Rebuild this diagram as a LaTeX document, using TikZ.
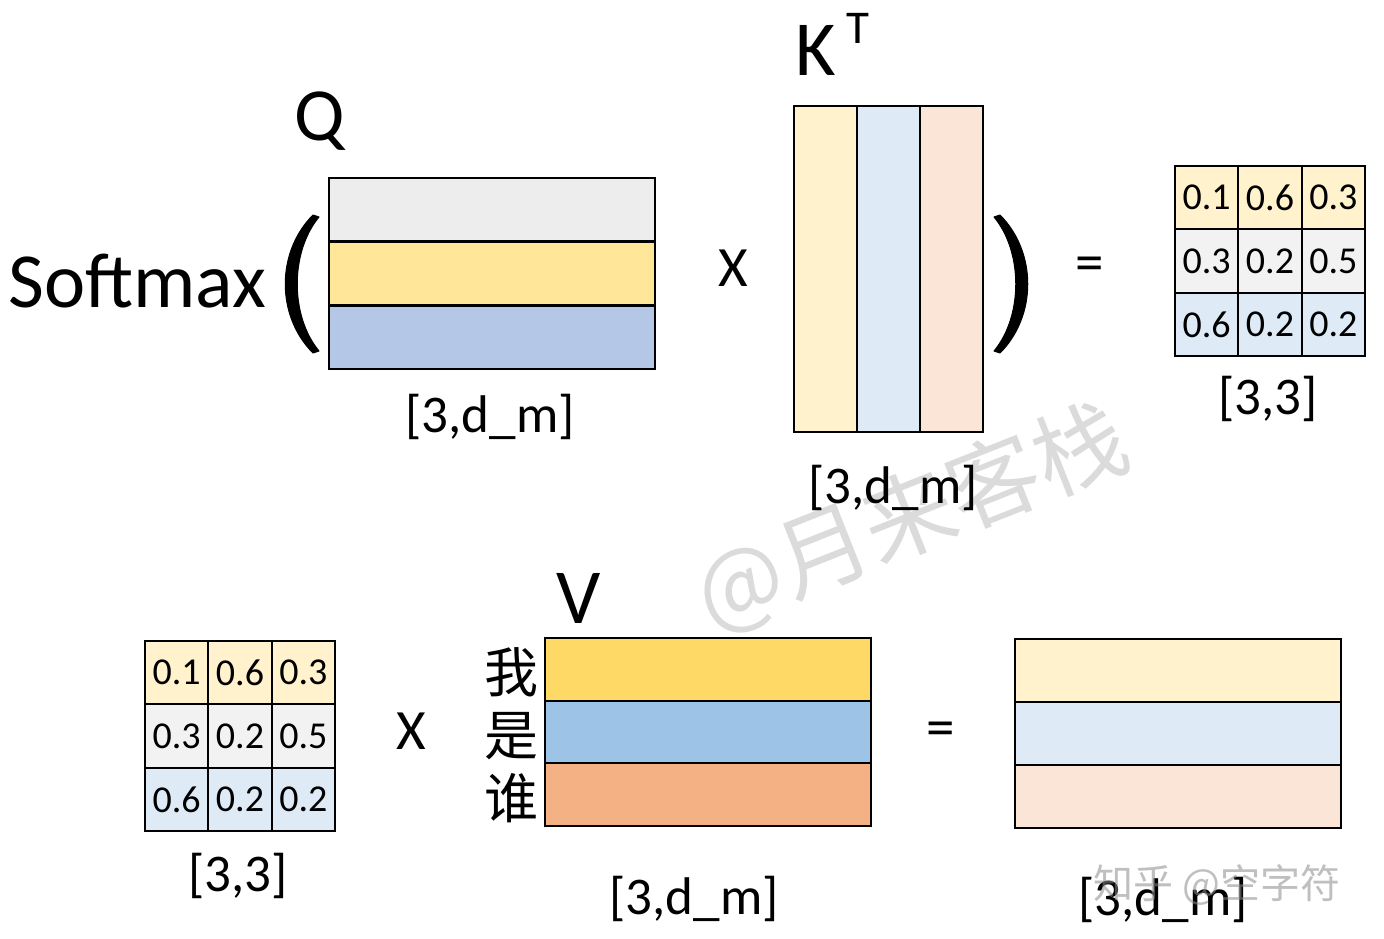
\documentclass[tikz,border=0pt]{standalone}
\usepackage{fontspec}
\setmainfont{Carlito}
\newfontfamily\cjk{Noto Sans CJK SC}
\definecolor{qgrey}{HTML}{EDEDED}
\definecolor{qyel}{HTML}{FFE699}
\definecolor{qblue}{HTML}{B4C7E7}
\definecolor{lyel}{HTML}{FFF2CC}
\definecolor{lblue}{HTML}{DEEBF7}
\definecolor{lpeach}{HTML}{FBE5D6}
\definecolor{lgrey}{HTML}{F2F2F2}
\definecolor{vyel}{HTML}{FFD966}
\definecolor{vblue}{HTML}{9DC3E6}
\definecolor{vorange}{HTML}{F4B183}
\tikzset{
  box/.style={draw=black, line width=1pt, inner sep=0pt, outer sep=0pt, anchor=north west},
  rowbox/.style={box, minimum width=163pt, minimum height=31.5pt},
  colbox/.style={box, minimum width=31.5pt, minimum height=163pt},
  numcell/.style={box, minimum width=31.67pt, minimum height=31.67pt, font=\fontsize{19}{19}\selectfont},
  lbl/.style={inner sep=0pt, font=\fontsize{26.5}{26.5}\selectfont},
  big/.style={inner sep=0pt, font=\fontsize{39}{39}\selectfont},
  op/.style={inner sep=0pt, font=\fontsize{28.5}{28.5}\selectfont},
  paren/.style={fill=black, draw=black, line width=0.5pt, line join=round},
  wm/.style={inner sep=0pt, text=black!45, opacity=0.55}
}
\begin{document}
\begin{tikzpicture}[x=0.5pt, y=-0.5pt]
\useasboundingbox[fill=white] (0,0) rectangle (1384,938);

% diagonal watermark
\node[wm, text=black!14, opacity=1, rotate=21.6, font=\cjk\fontsize{46}{46}\selectfont] (wm1) at (912,518) {@月来客栈};

% ---------- top row ----------
\node[big, anchor=base] (softmax) at (137.5,307) {Softmax};
\fill[paren] (313,215) .. controls (276,252) and (276,316) .. (313,353) -- (319,351) .. controls (290,316) and (290,252) .. (319,217) -- cycle;

% Q
\node[big, font=\fontsize{37.5}{37.5}\selectfont, anchor=base] (qlab) at (320,140) {Q};
\node[rowbox, fill=qgrey] (q1) at (329,178) {};
\node[rowbox, fill=qyel]  (q2) at (329,242) {};
\node[rowbox, fill=qblue] (q3) at (329,306) {};
\node[lbl] (qdim) at (490,417) {[3,d\_m]};

\node[op] (x1) at (733,268.5) {X};

% K^T
\node[big, anchor=base] (klab) at (816,75) {K};
\node[inner sep=0pt, font=\fontsize{23.5}{23.5}\selectfont, anchor=base] (tlab) at (858,43) {T};
\node[colbox, fill=lyel]   (k1) at (794,106) {};
\node[colbox, fill=lblue]  (k2) at (857,106) {};
\node[colbox, fill=lpeach] (k3) at (920,106) {};
\node[lbl] (kdim) at (893,488) {[3,d\_m]};

\fill[paren] (1000,215) .. controls (1037,252) and (1037,316) .. (1000,353) -- (994,351) .. controls (1023,316) and (1023,252) .. (994,217) -- cycle;

\node[op] (eq1) at (1090,269.5) {=};

% result grid top
\node[numcell, fill=lyel]  (a11) at (1175,166) {0.1};
\node[numcell, fill=lyel]  (a12) at (1238.33,166) {0.6};
\node[numcell, fill=lyel]  (a13) at (1301.67,166) {0.3};
\node[numcell, fill=lgrey] (a21) at (1175,229.33) {0.3};
\node[numcell, fill=lgrey] (a22) at (1238.33,229.33) {0.2};
\node[numcell, fill=lgrey] (a23) at (1301.67,229.33) {0.5};
\node[numcell, fill=lblue] (a31) at (1175,292.67) {0.6};
\node[numcell, fill=lblue] (a32) at (1238.33,292.67) {0.2};
\node[numcell, fill=lblue] (a33) at (1301.67,292.67) {0.2};
\node[lbl] (adim) at (1268,399) {[3,3]};

% ---------- bottom row ----------
\node[numcell, fill=lyel]  (b11) at (145,641) {0.1};
\node[numcell, fill=lyel]  (b12) at (208.33,641) {0.6};
\node[numcell, fill=lyel]  (b13) at (271.67,641) {0.3};
\node[numcell, fill=lgrey] (b21) at (145,704.33) {0.3};
\node[numcell, fill=lgrey] (b22) at (208.33,704.33) {0.2};
\node[numcell, fill=lgrey] (b23) at (271.67,704.33) {0.5};
\node[numcell, fill=lblue] (b31) at (145,767.67) {0.6};
\node[numcell, fill=lblue] (b32) at (208.33,767.67) {0.2};
\node[numcell, fill=lblue] (b33) at (271.67,767.67) {0.2};
\node[lbl] (bdim) at (238,876) {[3,3]};

\node[op] (x2) at (411,731) {X};

% V
\node[big, anchor=base] (vlab) at (579,623) {V};
\node[inner sep=0pt, font=\cjk\fontsize{27}{27}\selectfont] (w1) at (511,672) {我};
\node[inner sep=0pt, font=\cjk\fontsize{27}{27}\selectfont] (w2) at (511,736) {是};
\node[inner sep=0pt, font=\cjk\fontsize{27}{27}\selectfont] (w3) at (511,798) {谁};
\node[rowbox, minimum height=31.33pt, fill=vyel]    (v1) at (545,638) {};
\node[rowbox, minimum height=31.33pt, fill=vblue]   (v2) at (545,700.67) {};
\node[rowbox, minimum height=31.33pt, fill=vorange] (v3) at (545,763.33) {};
\node[lbl] (vdim) at (694,899) {[3,d\_m]};

\node[op] (eq2) at (941,734.5) {=};

% output
\node[rowbox, fill=lyel]   (r1) at (1015,639) {};
\node[rowbox, fill=lblue]  (r2) at (1015,702) {};
\node[rowbox, fill=lpeach] (r3) at (1015,765) {};
\node[lbl] (rdim) at (1163,900) {[3,d\_m]};

% corner watermark
\node[wm, font=\cjk\fontsize{20}{20}\selectfont] (wm2) at (1217,885) {知乎 @空字符};
\end{tikzpicture}
\end{document}
